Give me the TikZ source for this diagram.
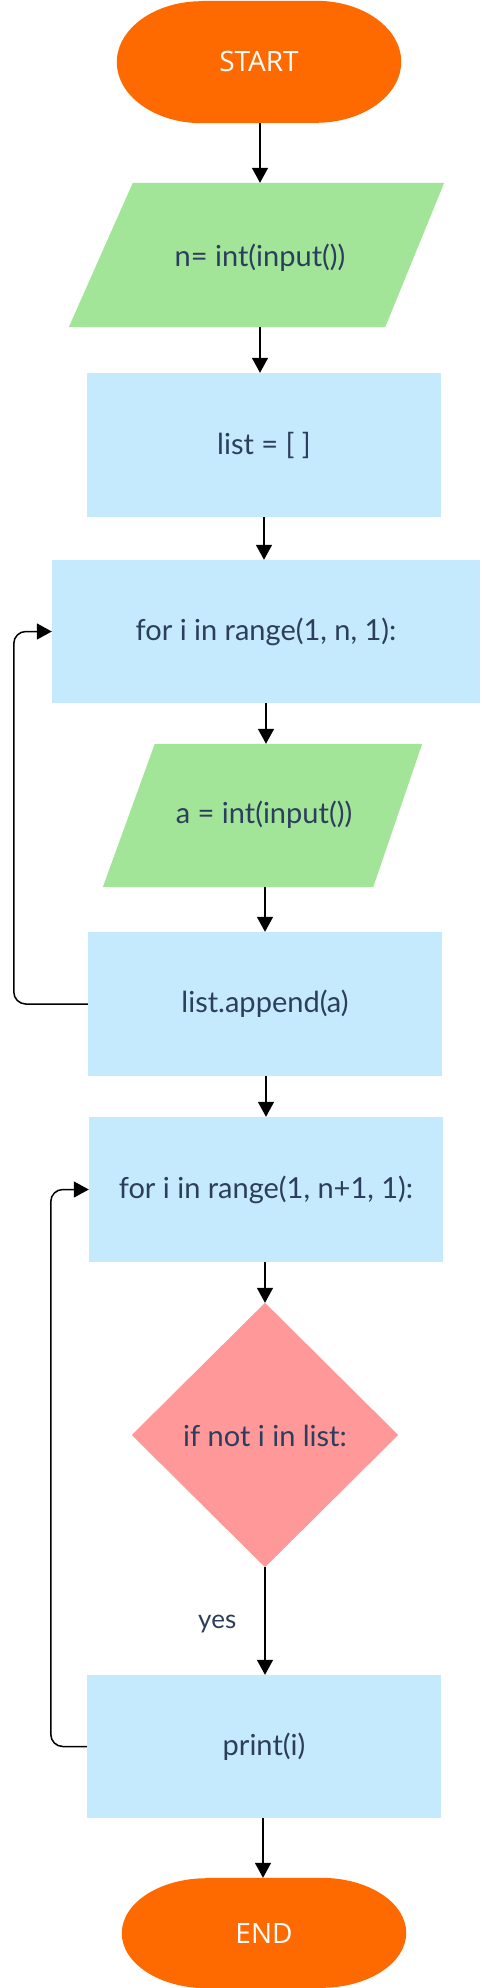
\documentclass[tikz,border=0pt]{standalone}
\usepackage{fontspec}
\setmainfont{Lato}
\newfontfamily\termfont{Open Sans}
\usetikzlibrary{arrows.meta}
\definecolor{termcol}{RGB}{255,106,0}
\definecolor{iocol}{RGB}{163,229,152}
\definecolor{boxcol}{RGB}{197,233,253}
\definecolor{deccol}{RGB}{255,153,153}
\definecolor{txtcol}{RGB}{44,62,93}
\tikzset{
  every node/.style={font=\fontsize{29}{34}\selectfont, text=txtcol, inner sep=0pt},
  procbox/.style={rectangle, fill=boxcol, minimum width=354pt, minimum height=144pt},
  termtxt/.style={font=\termfont\fontsize{28}{32}\selectfont, text=white},
  arr/.style={draw=black, line width=1.5pt, -{Triangle[length=15pt,width=16pt]}},
}
\begin{document}
\begin{tikzpicture}[x=1pt,y=-1pt]
\useasboundingbox (0,0) rectangle (482,1988);
% START terminal
\node[rectangle, minimum width=284pt, minimum height=122pt] (start) at (259,62) {};
\fill[termcol] ([xshift=85pt]start.north west) -- ([xshift=-85pt]start.north east)
  arc[start angle=90, end angle=-90, x radius=85pt, y radius=61pt]
  -- ([xshift=85pt]start.south west)
  arc[start angle=270, end angle=90, x radius=85pt, y radius=61pt] -- cycle;
\node[termtxt] (starttxt) at (start.center) {START};
% input n
\node[rectangle, minimum width=375pt, minimum height=144pt] (in1) at (256.5,255) {};
\fill[iocol] ([xshift=64pt]in1.north west) -- (in1.north east) -- ([xshift=-59pt]in1.south east) -- (in1.south west) -- cycle;
\node (in1txt) at (260,258) {n= int(input())};
% list = []
\node[procbox] (lst) at (264,445) {list = [ ]};
% for 1
\node[procbox, minimum width=428pt, minimum height=143pt] (for1) at (266,631.5) {for i in range(1, n, 1):};
% input a
\node[rectangle, minimum width=319pt, minimum height=143pt] (in2) at (262.5,815.5) {};
\fill[iocol] ([xshift=52pt]in2.north west) -- (in2.north east) -- ([xshift=-49pt]in2.south east) -- (in2.south west) -- cycle;
\node (in2txt) at (264,815) {a = int(input())};
% append
\node[procbox] (app) at (265,1004) {list.append(a)};
% for 2
\node[procbox, minimum height=145pt] (for2) at (266,1189.5) {for i in range(1, n+1, 1):};
% decision
\node[rectangle, minimum width=266pt, minimum height=264pt] (dec) at (265,1435) {};
\fill[deccol] (dec.north) -- (dec.east) -- (dec.south) -- (dec.west) -- cycle;
\node (dectxt) at (265,1436) {if not i in list:};
% print
\node[procbox, minimum height=143pt] (prt) at (264,1746.5) {print(i)};
% END terminal
\node[rectangle, minimum width=284pt, minimum height=110pt] (end) at (264,1933) {};
\fill[termcol] ([xshift=85pt]end.north west) -- ([xshift=-85pt]end.north east)
  arc[start angle=90, end angle=-90, x radius=85pt, y radius=55pt]
  -- ([xshift=85pt]end.south west)
  arc[start angle=270, end angle=90, x radius=85pt, y radius=55pt] -- cycle;
\node[termtxt] (endtxt) at (end.center) {END};
% connectors
\draw[arr] ([xshift=1pt]start.south) -- ([xshift=1pt]start.south |- in1.north);
\draw[arr] ([xshift=3.5pt]in1.south) -- ([xshift=3.5pt]in1.south |- lst.north);
\draw[arr] (lst.south) -- (lst.south |- for1.north);
\draw[arr] (for1.south) -- (for1.south |- in2.north);
\draw[arr] ([xshift=2.5pt]in2.south) -- ([xshift=2.5pt]in2.south |- app.north);
\draw[arr] ([xshift=1pt]app.south) -- ([xshift=1pt]app.south |- for2.north);
\draw[arr] ([xshift=-1pt]for2.south) -- (dec.north);
\draw[arr] (dec.south) -- (dec.south |- prt.north) node[pos=0.53, left=28pt, font=\fontsize{26}{30}\selectfont] (yes) {yes};
\draw[arr] ([xshift=-1pt]prt.south) -- ([xshift=-1pt]prt.south |- end.north);
\draw[arr, rounded corners=12pt] (app.west) -- ++(-74,0) |- (for1.west);
\draw[arr, rounded corners=12pt] (prt.west) -- ++(-36,0) |- (for2.west);
\end{tikzpicture}
\end{document}
